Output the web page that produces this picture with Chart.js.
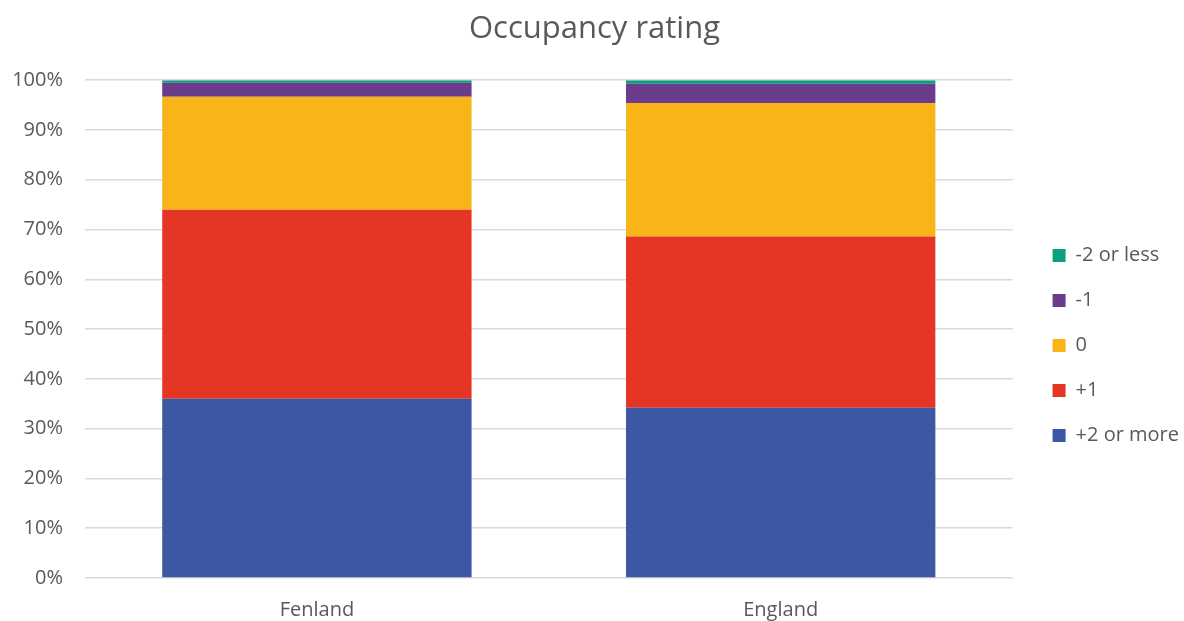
<!DOCTYPE html>
<html>
<head>
<meta charset="utf-8">
<script src="https://cdn.jsdelivr.net/npm/chart.js@4"></script>
<style>
  html, body { margin: 0; padding: 0; background: #fff; }
  #wrap { width: 1184px; height: 621px; }
</style>
</head>
<body>
<div id="wrap"><canvas id="chart"></canvas></div>
<script>
const categories = ['Fenland', 'England'];

const plus2 = [36.0, 34.2];
const plus1 = [38.0, 34.4];
const zero = [22.7, 26.8];
const minus1 = [2.8, 3.9];
const minus2 = [0.5, 0.7];

const tickLabels = ['0%', '10%', '20%', '30%', '40%', '50%', '60%', '70%', '80%', '90%', '100%'];

const ctx = document.getElementById('chart');

const chart = new Chart(ctx, {
    type: 'bar',
    data: {
        labels: categories,
        datasets: [
            { label: '+2 or more', data: plus2, backgroundColor: '#3C57A4' },
            { label: '+1', data: plus1, backgroundColor: '#E53525' },
            { label: '0', data: zero, backgroundColor: '#F9B417' },
            { label: '-1', data: minus1, backgroundColor: '#6A3C8B' },
            { label: '-2 or less', data: minus2, backgroundColor: '#0A9F7E' }
        ]
    },
    options: {
        responsive: true,
        maintainAspectRatio: false,
        animation: false,
        datasets: {
            bar: { categoryPercentage: 1, barPercentage: 0.667, borderWidth: 0 }
        },
        layout: { padding: { left: 0, right: -5, top: 11, bottom: -13 } },
        plugins: {
            title: {
                display: true,
                text: 'Occupancy rating',
                color: '#595959',
                font: { family: 'Open Sans', size: 31, weight: 'normal' },
                padding: { top: 0, bottom: 32 }
            },
            legend: {
                position: 'right',
                reverse: true,
                title: { display: true, text: ' ', padding: { top: 0, bottom: 22 }, font: { size: 20 } },
                labels: {
                    color: '#595959',
                    font: { family: 'Open Sans', size: 20 },
                    boxWidth: 13,
                    boxHeight: 13,
                    padding: 25
                }
            },
            tooltip: { enabled: false }
        },
        scales: {
            x: {
                stacked: true,
                grid: { display: false },
                border: { display: false },
                ticks: { color: '#595959', font: { family: 'Open Sans', size: 20 }, padding: 12 }
            },
            y: {
                stacked: true,
                min: 0,
                max: 100,
                grid: { color: '#d9d9d9', lineWidth: 1.5, drawTicks: false },
                border: { display: false },
                ticks: {
                    stepSize: 10,
                    color: '#595959',
                    font: { family: 'Open Sans', size: 20 },
                    padding: 22,
                    callback: (v, i) => tickLabels[i]
                },
                afterFit: scale => { scale.width = 85; }
            },
            gap: {
                position: 'right',
                display: true,
                grid: { display: false },
                border: { display: false },
                ticks: { display: false },
                afterFit: scale => { scale.width = 15; }
            }
        }
    }
});
</script>
</body>
</html>
